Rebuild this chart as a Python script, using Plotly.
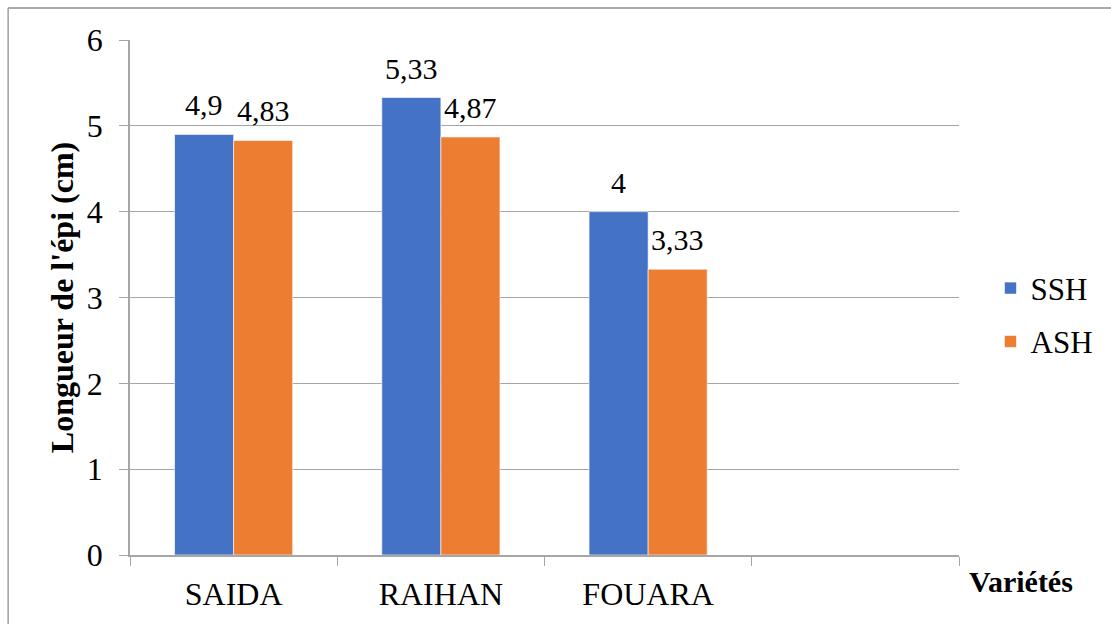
import plotly.graph_objects as go

# Ear length per variety, two treatments
varieties = ["SAIDA", "RAIHAN", "FOUARA"]
ssh_values = [4.9, 5.33, 4.0]
ash_values = [4.83, 4.87, 3.33]
ssh_labels = ["4,9", "5,33", "4"]
ash_labels = ["4,83", "4,87", "3,33"]
y_ticks = [0, 1, 2, 3, 4, 5, 6]

FONT = "Liberation Serif"
GRID = "#a6a6a6"

PLOT_W = 1111 - 130 - 151
N_SLOTS = len(varieties) + 1
BARGAP = 0.43
# horizontal offset (px) from a category centre to the centre of each bar
BAR_OFFSET = PLOT_W / N_SLOTS * (1 - BARGAP) / 4

fig = go.Figure()
fig.add_trace(go.Bar(
    name="SSH", x=varieties, y=ssh_values,
    marker=dict(color="#4472C4", line=dict(width=0.6, color="#ffffff")),
    legendgroup="a",
))
fig.add_trace(go.Bar(
    name="ASH", x=varieties, y=ash_values,
    marker=dict(color="#ED7D31", line=dict(width=0.6, color="#ffffff")),
    legendgroup="b",
))

# value labels above each bar
annotations = []
for values, labels, shift in ((ssh_values, ssh_labels, -BAR_OFFSET),
                              (ash_values, ash_labels, BAR_OFFSET)):
    for cat, v, lab in zip(varieties, values, labels):
        annotations.append(dict(
            x=cat, y=v, xref="x", yref="y", text=lab, showarrow=False,
            xanchor="center", yanchor="bottom", xshift=shift, yshift=11,
            font=dict(family=FONT, size=30, color="#000000"),
        ))

annotations.append(dict(
    text="<b>Variétés</b>", xref="paper", yref="paper",
    x=1.075, y=-0.052, xanchor="center", yanchor="middle",
    showarrow=False, font=dict(family=FONT, size=30, color="#000000"),
))

fig.update_layout(
    width=1111, height=624,
    margin=dict(l=130, r=151, t=40, b=67),
    paper_bgcolor="#ffffff", plot_bgcolor="#ffffff",
    barmode="group", bargap=BARGAP, bargroupgap=0,
    font=dict(family=FONT, color="#000000"),
    showlegend=True,
    legend=dict(
        x=1.038, y=0.57, xanchor="left", yanchor="top",
        font=dict(family=FONT, size=31, color="#000000"),
        tracegroupgap=10, itemwidth=30, bgcolor="rgba(0,0,0,0)",
    ),
    xaxis=dict(
        type="category",
        categoryorder="array", categoryarray=varieties + [" "],
        range=[-0.5, 3.5],
        tickson="boundaries", ticks="outside", ticklen=9, tickcolor=GRID,
        showline=True, linecolor=GRID, linewidth=1.5,
        showgrid=False,
        tickfont=dict(family=FONT, size=32, color="#000000"),
        ticklabelstandoff=10,
    ),
    yaxis=dict(
        range=[0, 6], tickvals=y_ticks, ticktext=[str(v) for v in y_ticks],
        ticks="outside", ticklen=9, tickcolor=GRID,
        showline=True, linecolor=GRID, linewidth=1.5,
        showgrid=True, gridcolor=GRID, gridwidth=1,
        zeroline=False,
        tickfont=dict(family=FONT, size=32, color="#000000"),
        ticklabelstandoff=10,
        title=dict(text="<b>Longueur de l'épi (cm)</b>",
                   font=dict(family=FONT, size=32, color="#000000"),
                   standoff=4),
    ),
    annotations=annotations,
    shapes=[
        dict(type="line", xref="paper", yref="paper",
             x0=-0.147, x1=1.3, y0=1.0619, y1=1.0619,
             line=dict(color="#8c8c8c", width=1.5)),
        dict(type="line", xref="paper", yref="paper",
             x0=-0.147, x1=-0.147, y0=1.0619, y1=-0.3,
             line=dict(color="#a0a0a0", width=1.5)),
    ],
)

fig.write_html("out.html")
